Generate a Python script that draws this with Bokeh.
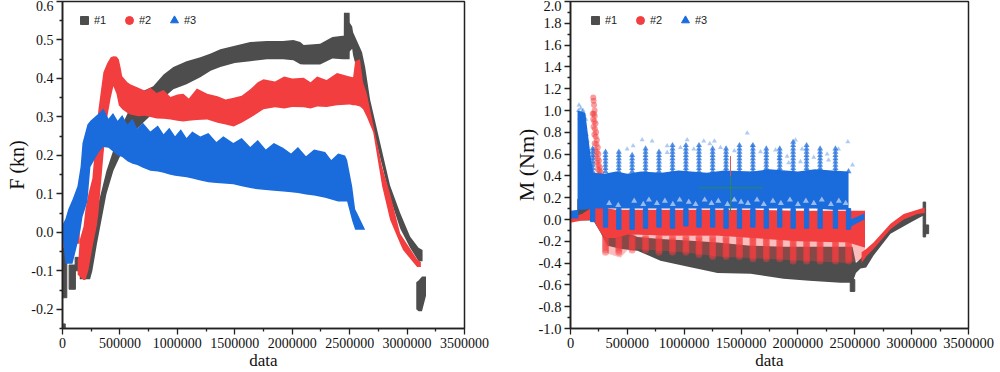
from bokeh.plotting import figure
from bokeh.layouts import row
from bokeh.models import FixedTicker, Legend, LegendItem, ColumnDataSource
from bokeh.embed import file_html
from bokeh.resources import INLINE

DARK = "#4D4D4D"; RED = "#F33E40"; BLUE = "#1A6BDC"

x_ticks = [0, 500000, 1000000, 1500000, 2000000, 2500000, 3000000, 3500000]
x_minor = [250000, 750000, 1250000, 1750000, 2250000, 2750000, 3250000]
f_ticks = [-0.2, -0.1, 0.0, 0.1, 0.2, 0.3, 0.4, 0.5, 0.6]
f_labels = ["-0.2", "-0.1", "0.0", "0.1", "0.2", "0.3", "0.4", "0.5", "0.6"]
f_minor = [-0.25, -0.15, -0.05, 0.05, 0.15, 0.25, 0.35, 0.45, 0.55]
m_ticks = [-1.0, -0.8, -0.6, -0.4, -0.2, 0.0, 0.2, 0.4, 0.6, 0.8, 1.0, 1.2, 1.4, 1.6, 1.8, 2.0]
m_labels = ["-1.0", "-0.8", "-0.6", "-0.4", "-0.2", "0.0", "0.2", "0.4", "0.6", "0.8", "1.0", "1.2", "1.4", "1.6", "1.8", "2.0"]
m_minor = [-0.9, -0.7, -0.5, -0.3, -0.1, 0.1, 0.3, 0.5, 0.7, 0.9, 1.1, 1.3, 1.5, 1.7, 1.9]

# ---- F panel: envelopes of the three dense series
f1_x = [150000, 200000, 240000, 260000, 300000, 383000, 443000, 504000, 600000, 650000, 790000, 880000, 965000, 1080000, 1200000, 1290000, 1374000, 1500000, 1635000, 1780000, 1920000, 2010000, 2070000, 2100000, 2243000, 2350000, 2440000, 2449000, 2450000, 2500000, 2501000, 2522000, 2530000, 2608000, 2635000, 2678000, 2852000, 2940000, 3026000, 3100000, 3135000]
f1_lo = [-0.122, -0.122, -0.122, -0.10, -0.03, 0.10, 0.16, 0.20, 0.26, 0.27, 0.31, 0.35, 0.372, 0.385, 0.403, 0.42, 0.43, 0.44, 0.445, 0.45, 0.45, 0.447, 0.437, 0.436, 0.436, 0.452, 0.45, 0.45, 0.45, 0.45, 0.47, 0.477, 0.46, 0.37, 0.354, 0.30, 0.09, 0.01, -0.04, -0.075, -0.075]
f1_hi = [-0.07, -0.03, 0.0, 0.02, 0.06, 0.16, 0.214, 0.27, 0.33, 0.36, 0.38, 0.41, 0.43, 0.445, 0.455, 0.465, 0.476, 0.485, 0.495, 0.497, 0.497, 0.50, 0.495, 0.487, 0.49, 0.508, 0.511, 0.511, 0.571, 0.571, 0.545, 0.535, 0.52, 0.468, 0.43, 0.345, 0.122, 0.05, -0.011, -0.04, -0.046]
f1_blob_x = [3080000, 3100000, 3130000, 3165000]
f1_blob_lo = [-0.20, -0.205, -0.205, -0.165]
f1_blob_hi = [-0.13, -0.125, -0.115, -0.115]
f1_bar_x = [20000, 12000, 85000, 125000]
f1_bar_w = [35000, 24000, 55000, 30000]
f1_bar_lo = [-0.17, -0.25, -0.148, -0.10]
f1_bar_hi = [-0.04, -0.238, -0.085, -0.065]

f2_start_x = [0, 40000]
f2_start_lo = [-0.04, -0.04]
f2_start_hi = [-0.015, -0.015]
f2_patch_x = [120000, 150000]
f2_patch_lo = [-0.03, -0.03]
f2_patch_hi = [0.0, 0.0]
f2_x = [132000, 140000, 150000, 183000, 200000, 226000, 260000, 300000, 313000, 356000, 390000, 420000, 443000, 470000, 490000, 505000, 520000, 565000, 590000, 660000, 720000, 765000, 820000, 880000, 940000, 1000000, 1052000, 1100000, 1170000, 1260000, 1350000, 1420000, 1490000, 1560000, 1635000, 1700000, 1750000, 1850000, 1930000, 2000000, 2100000, 2160000, 2217000, 2300000, 2390000, 2500000, 2530000, 2548000, 2590000, 2617000, 2650000, 2705000, 2783000, 2852000, 2940000, 2965000, 3087000, 3120000]
f2_lo = [-0.11, -0.112, -0.115, -0.124, -0.124, -0.098, -0.04, 0.02, 0.05, 0.20, 0.30, 0.35, 0.38, 0.36, 0.33, 0.325, 0.32, 0.31, 0.306, 0.302, 0.303, 0.30, 0.296, 0.295, 0.293, 0.29, 0.288, 0.29, 0.292, 0.293, 0.285, 0.28, 0.275, 0.285, 0.298, 0.31, 0.32, 0.325, 0.322, 0.326, 0.325, 0.322, 0.327, 0.326, 0.33, 0.332, 0.33, 0.33, 0.327, 0.32, 0.30, 0.26, 0.12, 0.033, -0.03, -0.046, -0.09, -0.09]
f2_hi = [-0.07, -0.065, -0.02, 0.015, 0.06, 0.10, 0.14, 0.28, 0.32, 0.416, 0.44, 0.455, 0.458, 0.457, 0.45, 0.43, 0.406, 0.39, 0.385, 0.376, 0.368, 0.376, 0.362, 0.37, 0.352, 0.358, 0.36, 0.348, 0.374, 0.36, 0.354, 0.345, 0.35, 0.355, 0.372, 0.39, 0.398, 0.392, 0.405, 0.40, 0.402, 0.39, 0.405, 0.396, 0.414, 0.405, 0.403, 0.445, 0.45, 0.39, 0.36, 0.28, 0.17, 0.10, -0.003, -0.015, -0.07, -0.077]

f3_x = [0, 26000, 50000, 87000, 130000, 157000, 174000, 217000, 243000, 280000, 320000, 356000, 400000, 440000, 480000, 520000, 565000, 610000, 650000, 700000, 765000, 830000, 880000, 930000, 980000, 1030000, 1080000, 1130000, 1200000, 1270000, 1340000, 1400000, 1487000, 1560000, 1635000, 1700000, 1770000, 1840000, 1920000, 1990000, 2050000, 2120000, 2190000, 2287000, 2340000, 2400000, 2460000, 2478000, 2522000, 2548000, 2565000, 2635000]
f3_lo = [-0.01, -0.082, -0.082, -0.082, -0.03, 0.007, 0.04, 0.08, 0.17, 0.19, 0.21, 0.222, 0.22, 0.21, 0.20, 0.196, 0.185, 0.178, 0.175, 0.168, 0.16, 0.158, 0.155, 0.15, 0.147, 0.145, 0.143, 0.14, 0.135, 0.13, 0.128, 0.127, 0.125, 0.12, 0.115, 0.112, 0.11, 0.108, 0.106, 0.104, 0.102, 0.098, 0.096, 0.09, 0.085, 0.08, 0.08, 0.08, 0.03, 0.007, 0.007, 0.007]
f3_hi = [0.02, 0.035, 0.06, 0.085, 0.12, 0.17, 0.232, 0.28, 0.29, 0.30, 0.31, 0.322, 0.295, 0.31, 0.29, 0.305, 0.28, 0.295, 0.27, 0.285, 0.262, 0.278, 0.255, 0.272, 0.25, 0.268, 0.245, 0.262, 0.249, 0.258, 0.235, 0.25, 0.232, 0.245, 0.222, 0.24, 0.215, 0.232, 0.22, 0.205, 0.222, 0.198, 0.215, 0.209, 0.188, 0.205, 0.20, 0.188, 0.12, 0.06, 0.05, 0.007]

# ---- M panel
m1_x = [60000, 130000, 200000, 264000, 325000, 450000, 589000, 791000, 994000, 1293000, 1583000, 1873000, 2100000, 2374000, 2480000, 2510000, 2550000, 2600000, 2665000, 2814000, 2990000, 3104000, 3115000]
m1_lo = [-0.01, -0.01, -0.01, -0.12, -0.24, -0.27, -0.286, -0.378, -0.424, -0.49, -0.498, -0.544, -0.563, -0.58, -0.58, -0.49, -0.45, -0.44, -0.33, -0.13, -0.028, 0.037, 0.02]
m1_hi = [0.19, 0.14, 0.08, 0.0, -0.05, -0.10, -0.16, -0.18, -0.19, -0.21, -0.24, -0.25, -0.25, -0.25, -0.25, -0.40, -0.36, -0.30, -0.24, -0.06, 0.04, 0.09, 0.09]
m1_bar_x = [2480000, 3112000, 3127000]
m1_bar_w = [40000, 22000, 45000]
m1_bar_lo = [-0.66, -0.16, -0.13]
m1_bar_hi = [-0.55, 0.16, -0.05]

m2_x = [0, 100000, 200000, 264000, 300000, 325000, 400000, 500000, 600000, 800000, 1000000, 1300000, 1600000, 2000000, 2440000, 2590000]
m2_lo = [-0.03, -0.01, 0.0, -0.12, -0.16, -0.17, -0.17, -0.14, -0.14, -0.15, -0.15, -0.15, -0.17, -0.20, -0.21, -0.26]
m2_hi = [0.02, 0.05, 0.12, 0.12, 0.10, 0.10, 0.09, 0.09, 0.09, 0.09, 0.09, 0.09, 0.09, 0.08, 0.08, 0.08]
m2_fringe_x = [264000, 300000, 325000, 380000, 440000, 510000, 700000, 1000000, 1300000, 1700000, 2100000, 2440000, 2590000]
m2_fringe_lo = [-0.12, -0.21, -0.31, -0.33, -0.35, -0.27, -0.28, -0.30, -0.34, -0.36, -0.38, -0.40, -0.36]
m2_fringe_hi = [-0.12, -0.16, -0.17, -0.17, -0.14, -0.14, -0.15, -0.15, -0.15, -0.17, -0.20, -0.21, -0.26]
m2_tail_x = [2560000, 2600000, 2665000, 2814000, 2930000, 3050000, 3115000]
m2_tail_lo = [-0.40, -0.34, -0.27, -0.09, 0.0, 0.05, 0.06]
m2_tail_hi = [-0.30, -0.27, -0.21, -0.04, 0.05, 0.09, 0.11]
m2_spike_x = [200000, 203000, 207000, 212000, 195000, 205000, 213000, 200000, 210000, 220000, 203000, 215000, 225000, 210000, 222000, 232000, 213000, 228000, 240000, 216000, 232000, 245000, 222000, 240000, 250000, 232000, 247000, 258000, 240000, 255000, 268000, 248000, 262000]
m2_spike_y = [1.12, 1.09, 1.05, 1.00, 0.97, 0.97, 0.95, 0.92, 0.90, 0.88, 0.85, 0.83, 0.80, 0.78, 0.76, 0.73, 0.70, 0.69, 0.66, 0.64, 0.62, 0.60, 0.58, 0.56, 0.54, 0.52, 0.50, 0.48, 0.46, 0.45, 0.43, 0.41, 0.40]
m2_ladder = [-0.16, -0.18, -0.20, -0.22, -0.24, -0.26, -0.28, -0.30, -0.32, -0.34, -0.36, -0.38]
m2_col_bottom = [-0.30, -0.30, -0.29, -0.29, -0.30, -0.30, -0.31, -0.33, -0.34, -0.35, -0.35, -0.36, -0.37, -0.37, -0.38, -0.38, -0.39, -0.39, -0.39]

m3_x = [62000, 130000, 176000, 200000, 300000, 400000, 500000, 620000, 800000, 950000, 1200000, 1350000, 1600000, 1750000, 2000000, 2150000, 2300000, 2445000]
m3_hi = [1.0, 0.98, 0.59, 0.43, 0.42, 0.44, 0.42, 0.44, 0.43, 0.45, 0.43, 0.45, 0.44, 0.46, 0.44, 0.46, 0.45, 0.44]
m3_lo = [0.09, 0.09, 0.10, 0.10, 0.10, 0.10, 0.10, 0.10, 0.10, 0.10, 0.10, 0.10, 0.10, 0.10, 0.10, 0.10, 0.09, 0.09]
m3_speck_x = [340000, 420000, 560000, 640000, 690000, 760000, 830000, 900000, 960000, 1040000, 1100000, 1180000, 1240000, 1300000, 1380000, 1440000, 1500000, 1560000, 1640000, 1700000, 1780000, 1850000, 1930000, 2000000, 2070000, 2140000, 2210000, 2290000, 2360000, 2420000]
m3_speck_y = [0.15, 0.13, 0.17, 0.14, 0.18, 0.15, 0.17, 0.14, 0.18, 0.16, 0.14, 0.18, 0.15, 0.17, 0.14, 0.18, 0.16, 0.15, 0.18, 0.14, 0.17, 0.15, 0.18, 0.14, 0.17, 0.15, 0.18, 0.14, 0.17, 0.15]
m3_low_x = [0, 70000]
m3_low_lo = [0.01, 0.01]
m3_low_hi = [0.08, 0.09]
m3_tail_x = [2440000, 2510000, 2585000]
m3_tail_lo = [-0.08, -0.04, 0.0]
m3_tail_hi = [-0.01, 0.02, 0.055]
m3_col_x = [195000, 308000, 425000, 542000, 660000, 778000, 897000, 1015000, 1130000, 1250000, 1368000, 1486000, 1604000, 1722000, 1840000, 1958000, 2076000, 2195000, 2330000, 2445000]
m3_col_top = [0.65, 0.64, 0.62, 0.60, 0.66, 0.62, 0.68, 0.70, 0.68, 0.66, 0.66, 0.68, 0.68, 0.66, 0.66, 0.72, 0.68, 0.66, 0.66, 0.44]
m3_col_bottom = [-0.02, -0.07, -0.09, -0.09, -0.08, -0.07, -0.08, -0.06, -0.07, -0.07, -0.08, -0.08, -0.07, -0.08, -0.07, -0.08, -0.08, -0.08, -0.08, -0.09]
m3_ladder = [0.44, 0.47, 0.50, 0.53, 0.56, 0.59, 0.62, 0.65, 0.68, 0.71]
m3_pale_x = [630000, 718000, 498000, 551000, 850000, 850000, 967000, 1026000, 1084000, 1172000, 1225000, 1266000, 1319000, 1554000, 1441000, 1598000, 1979000, 2439000, 1803000, 1671000, 2037000, 2139000, 2257000, 2357000, 1905000, 2022000, 2269000, 1832000, 1919000, 2480000]
m3_pale_y = [0.73, 0.72, 0.646, 0.676, 0.676, 0.615, 0.66, 0.73, 0.646, 0.72, 0.695, 0.72, 0.66, 0.793, 0.63, 0.676, 0.729, 0.713, 0.636, 0.62, 0.646, 0.57, 0.60, 0.646, 0.58, 0.53, 0.545, 0.56, 0.52, 0.50]
m3_head_x = [75000, 90000, 105000, 120000, 80000, 100000, 125000, 140000, 150000, 165000, 70000, 110000, 135000]
m3_head_y = [1.05, 1.02, 0.99, 0.96, 0.93, 0.90, 0.85, 0.78, 0.72, 0.62, 1.0, 1.0, 0.92]

cross_x = [1130000, 1407000]
cross_x2 = [1695000, 1407000]
cross_y = [0.29, 0.07]
cross_y2 = [0.29, 0.58]
cross_red_y = [0.40]
cross_red_y2 = [0.58]
cross_red_x = [1407000]


def base(width, ylab, yr, yt, ym, yl, left, right, tick_px, ysize, ystand):
    p = figure(width=width, height=372, output_backend="svg", toolbar_location=None,
               x_range=(0, 3500000), y_range=yr, min_border_left=left, min_border_right=right,
               min_border_top=1, min_border_bottom=44, background_fill_color="white", border_fill_alpha=0)
    p.grid.visible = False
    p.outline_line_color = "#222222"
    p.outline_line_width = 1.5
    p.xaxis.ticker = FixedTicker(ticks=x_ticks, minor_ticks=x_minor)
    p.yaxis.ticker = FixedTicker(ticks=yt, minor_ticks=ym)
    p.yaxis.major_label_overrides = dict(zip(yt, yl))
    p.xaxis.major_label_overrides = {t: str(t) for t in x_ticks}
    p.xaxis.axis_label = "data"
    p.yaxis.axis_label = ylab
    for ax in (p.xaxis[0], p.yaxis[0]):
        ax.axis_line_color = "#222222"; ax.axis_line_width = 1.6
        ax.major_tick_line_color = "#222222"; ax.major_tick_line_width = 1.3
        ax.minor_tick_line_color = "#222222"; ax.minor_tick_line_width = 1.3
        ax.major_tick_out = 6; ax.major_tick_in = 0
        ax.minor_tick_out = 3; ax.minor_tick_in = 0
        ax.major_label_text_font = "Liberation Serif"
        ax.major_label_text_font_size = tick_px
        ax.major_label_text_color = "#111111"
        ax.major_label_standoff = 3
        ax.axis_label_text_font = "Liberation Serif"
        ax.axis_label_text_font_style = "normal"
        ax.axis_label_text_color = "#111111"
    p.xaxis[0].axis_label_text_font_size = "17px"
    p.xaxis[0].axis_label_standoff = 0
    p.yaxis[0].axis_label_text_font_size = ysize
    p.yaxis[0].axis_label_standoff = ystand
    return p


def legend(p, x, y):
    e = ColumnDataSource(data=dict(x=[float("nan")], y=[float("nan")]))
    r1 = p.scatter("x", "y", source=e, marker="square", color=DARK)
    r2 = p.scatter("x", "y", source=e, marker="circle", color=RED)
    r3 = p.scatter("x", "y", source=e, marker="triangle", color=BLUE)
    lg = Legend(items=[LegendItem(label="#1", renderers=[r1]), LegendItem(label="#2", renderers=[r2]),
                       LegendItem(label="#3", renderers=[r3])],
                orientation="horizontal", location=(x, y), border_line_alpha=0, background_fill_alpha=0,
                glyph_width=20, glyph_height=20, spacing=5, padding=0, margin=0, label_standoff=-5,
                label_text_font="Liberation Sans", label_text_font_size="11px", label_text_color="#222222")
    p.add_layout(lg, "center")


# Left figure
p1 = base(510, "F (kn)", (-0.25, 0.6), f_ticks, f_minor, f_labels, 62, 46, "14px", "20px", 0)
p1.varea(f1_x, f1_lo, f1_hi, color=DARK)
p1.varea(f1_blob_x, f1_blob_lo, f1_blob_hi, color=DARK)
p1.vbar(x=f1_bar_x, width=f1_bar_w, bottom=f1_bar_lo, top=f1_bar_hi, color=DARK)
p1.varea(f2_start_x, f2_start_lo, f2_start_hi, color=RED)
p1.varea(f2_patch_x, f2_patch_lo, f2_patch_hi, color=RED)
p1.varea(f2_x, f2_lo, f2_hi, color=RED)
p1.varea(f3_x, f3_lo, f3_hi, color=BLUE)
legend(p1, 12, 298)

# Right figure
p2 = base(490, "M (Nm)", (-1.0, 2.0), m_ticks, m_minor, m_labels, 60, 32, "14.5px", "22px", -3)
p2.varea(m1_x, m1_lo, m1_hi, color=DARK)
p2.vbar(x=m1_bar_x, width=m1_bar_w, bottom=m1_bar_lo, top=m1_bar_hi, color=DARK)
p2.varea(m2_fringe_x, m2_fringe_lo, m2_fringe_hi, color=RED, alpha=0.35)
col_x = [x for x, b in zip(m3_col_x[1:], m2_col_bottom) for y in m2_ladder if y >= b]
col_y = [y for x, b in zip(m3_col_x[1:], m2_col_bottom) for y in m2_ladder if y >= b]
p2.scatter(col_x, col_y, marker="circle", size=7, color=RED, alpha=0.45, line_alpha=0)
p2.varea(m2_x, m2_lo, m2_hi, color=RED)
p2.varea(m2_tail_x, m2_tail_lo, m2_tail_hi, color=RED)
p2.scatter(m2_spike_x, m2_spike_y, marker="circle", size=6, color=RED, alpha=0.5, line_alpha=0)
p2.varea(m3_x, m3_lo, m3_hi, color=BLUE)
p2.scatter(m3_speck_x, m3_speck_y, marker="triangle", size=6, color="#B7CFF3", alpha=0.8, line_alpha=0)
p2.varea(m3_low_x, m3_low_lo, m3_low_hi, color=BLUE)
p2.varea(m3_tail_x, m3_tail_lo, m3_tail_hi, color=BLUE)
p2.vbar(x=m3_col_x, width=38000, bottom=m3_col_bottom, top=[0.1] * 20, color=BLUE)
ladder_x = [x for x, t in zip(m3_col_x, m3_col_top) for y in m3_ladder if y <= t]
ladder_y = [y for x, t in zip(m3_col_x, m3_col_top) for y in m3_ladder if y <= t]
p2.scatter(ladder_x, ladder_y, marker="triangle", size=6, color=BLUE, alpha=0.75, line_alpha=0)
p2.scatter(m3_pale_x, m3_pale_y, marker="triangle", size=5, color=BLUE, alpha=0.35, line_alpha=0)
p2.scatter(m3_head_x, m3_head_y, marker="triangle", size=5, color=BLUE, alpha=0.4, line_alpha=0)
p2.segment(cross_x, cross_y, cross_x2, cross_y2, line_color="#2E8B57", line_width=1)
p2.segment(cross_red_x, cross_red_y, cross_red_x, cross_red_y2, line_color="#E0564F", line_width=1)
legend(p2, 15, 298)

page = row(p1, p2, spacing=0)
open("out.html", "w").write(file_html(page, INLINE))
